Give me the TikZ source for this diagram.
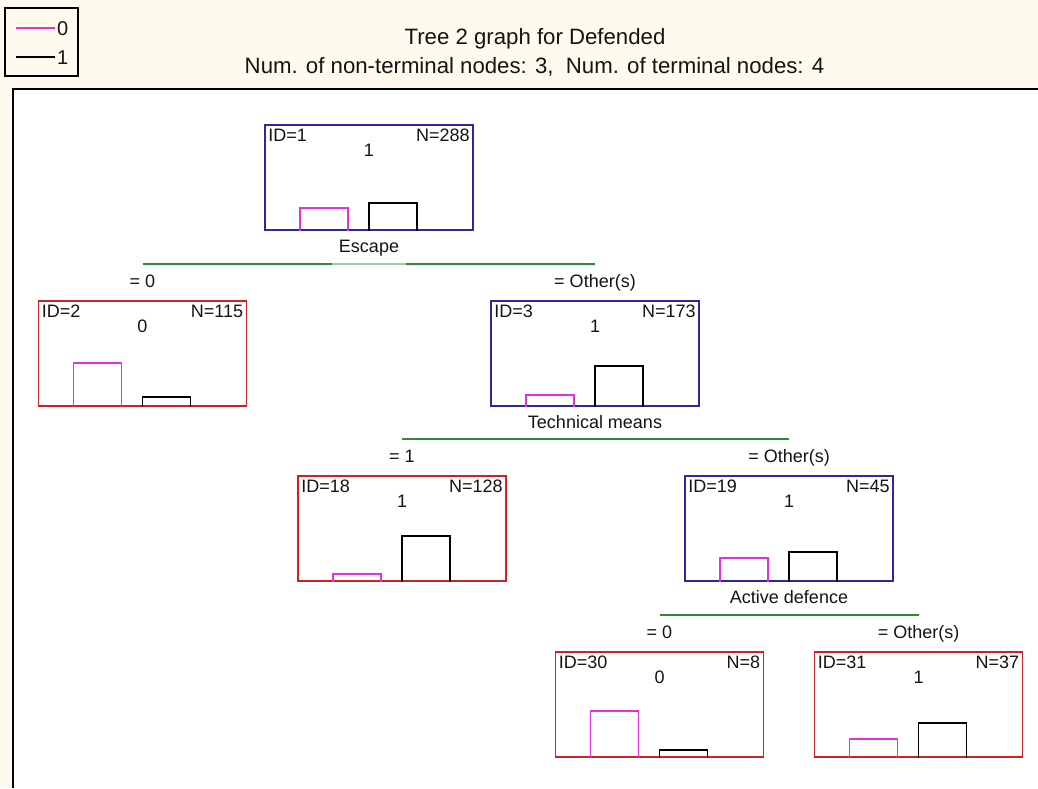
\documentclass[tikz,border=0pt]{standalone}
\usepackage{fontspec}
\setmainfont{Liberation Sans}
\definecolor{cream}{HTML}{FFF9EE}
\definecolor{nblue}{HTML}{2A2AA0}
\definecolor{nred}{HTML}{CC2222}
\definecolor{mag}{HTML}{E030E0}
\definecolor{sgreen}{HTML}{2E8B2E}
\definecolor{ink}{HTML}{141414}
\newcommand\treenode[9]{%
  \node[#4] (#1) at (#2,{#3+52.5}) {};
  \node[txt, anchor=base west] (#1-id) at ([xshift=4pt,yshift=-17pt]#1.north west) {ID=#5};
  \node[txt, anchor=base east] (#1-n) at ([xshift=-4pt,yshift=-17pt]#1.north east) {N=#6};
  \node[txt, anchor=base] (#1-c) at ([yshift=-32pt]#1.north) {#7};
  \draw[bar0] ([xshift=-69pt]#1.south) -- ++(0,-#8) -- ++(48,0) -- ++(0,#8);
  \draw[bar1] (#1.south) -- ++(0,-#9) -- ++(48,0) -- ++(0,#9);
}
\begin{document}
\begin{tikzpicture}[x=1pt,y=-1pt,
  txt/.style={inner sep=0pt, text=ink, font=\fontsize{18}{21}\selectfont},
  legtxt/.style={inner sep=0pt, text=ink, font=\fontsize{20}{23}\selectfont},
  titletxt/.style={inner sep=0pt, text=ink, font=\fontsize{22.2}{26}\selectfont},
  tbox/.style={draw, fill=white, line width=1.6pt, minimum width=208pt, minimum height=105pt, inner sep=0pt},
  ibox/.style={tbox, draw=nblue},
  lbox/.style={tbox, draw=nred},
  bar0/.style={draw=mag, line width=1.6pt},
  bar1/.style={draw=black, line width=1.6pt},
  split/.style={draw=sgreen, line width=1.8pt},
  frame/.style={draw=black, line width=2pt}]
\useasboundingbox (0,0) rectangle (1038,788);
\fill[cream] (0,0) rectangle (1038,788);
\fill[white] (13,89) rectangle (1038,788);
\draw[frame] (13,788) -- (13,89) -- (1038,89);

% legend
\node[draw=black, line width=1.3pt, minimum width=73pt, minimum height=68pt, inner sep=0pt] (leg) at (41.5,42) {};
\coordinate (l0a) at (16,28); \coordinate (l0b) at (55,28);
\coordinate (l1a) at (16,57); \coordinate (l1b) at (55,57);
\draw[mag, line width=1.3pt] (l0a) -- (l0b);
\draw[black, line width=1.3pt] (l1a) -- (l1b);
\node[legtxt, anchor=west] (leg0) at (57,29) {0};
\node[legtxt, anchor=west] (leg1) at (57,58) {1};

% titles
\node[titletxt, anchor=base] (t1) at (535,44) {Tree 2 graph for Defended};
\node[titletxt, anchor=base] (t2) at (534.5,73) {Num. of non-terminal nodes: 3,\ \ Num. of terminal nodes: 4};

% nodes
\treenode{n1}{369}{125}{ibox}{1}{288}{1}{23}{28}
\treenode{n2}{142.5}{301}{lbox}{2}{115}{0}{44}{10}
\treenode{n3}{595}{301}{ibox}{3}{173}{1}{12}{41}
\treenode{n18}{402}{476}{lbox}{18}{128}{1}{8}{46}
\treenode{n19}{789}{476}{ibox}{19}{45}{1}{24}{30}
\treenode{n30}{659.5}{652}{lbox}{30}{8}{0}{47}{8}
\treenode{n31}{918.5}{652}{lbox}{31}{37}{1}{19}{35}

% split variables
\node[txt, anchor=base] (v1) at ([yshift=-22pt]n1.south) {Escape};
\node[txt, anchor=base] (v3) at ([yshift=-22pt]n3.south) {Technical means};
\node[txt, anchor=base] (v19) at ([yshift=-22pt]n19.south) {Active defence};

% split lines
\draw[split] ([yshift=36pt]n2.north) -- ([yshift=36pt]n3.north);
\draw[draw=sgreen!45, line width=1.8pt] ([xshift=-37pt,yshift=36pt]n3.north -| n1.south) -- ([xshift=37pt,yshift=36pt]n3.north -| n1.south);
\draw[split] ([yshift=36pt]n18.north) -- ([yshift=36pt]n19.north);
\draw[split] ([yshift=36pt]n30.north) -- ([yshift=36pt]n31.north);

% split conditions
\node[txt, anchor=base] (c2) at ([yshift=13pt]n2.north) {= 0};
\node[txt, anchor=base] (c3) at ([yshift=13pt]n3.north) {= Other(s)};
\node[txt, anchor=base] (c18) at ([yshift=13pt]n18.north) {= 1};
\node[txt, anchor=base] (c19) at ([yshift=13pt]n19.north) {= Other(s)};
\node[txt, anchor=base] (c30) at ([yshift=13pt]n30.north) {= 0};
\node[txt, anchor=base] (c31) at ([yshift=13pt]n31.north) {= Other(s)};
\end{tikzpicture}
\end{document}
